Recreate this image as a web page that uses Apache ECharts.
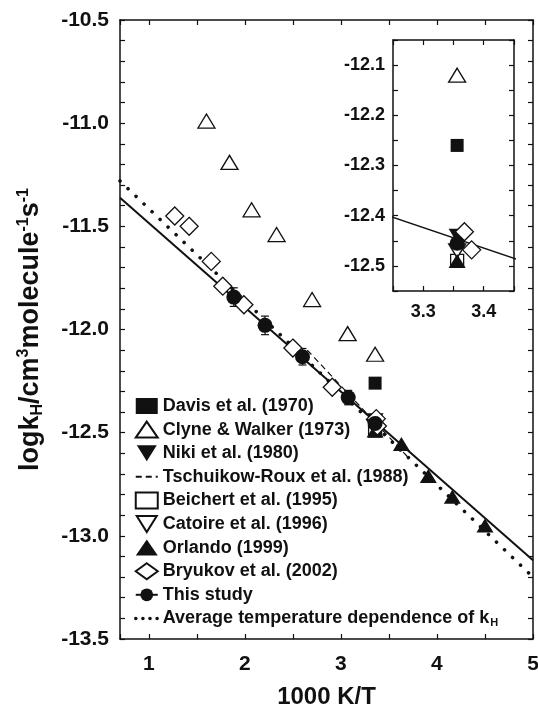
<!DOCTYPE html>
<html>
<head>
<meta charset="utf-8">
<script src="https://cdn.jsdelivr.net/npm/echarts@6/dist/echarts.min.js"></script>
<style>
  html, body { margin: 0; padding: 0; background: #fff; }
  #chart { width: 538px; height: 706px; }
</style>
</head>
<body>
<div id="chart"></div>
<script>
// values (x = 1000 K/T, y = log kH)
const davisX = [3.356]
const davisY = [-12.26]
const clyneX = [1.60, 1.84, 2.07, 2.33, 2.70, 3.07, 3.356]
const clyneY = [-10.99, -11.19, -11.42, -11.54, -11.855, -12.02, -12.12]
const nikiX = [3.356]
const nikiY = [-12.44]
const tschX = [2.65, 3.70]
const tschY = [-12.10, -12.62]
const beichertX = [3.356]
const beichertY = [-12.49]
const catoireX = [3.356]
const catoireY = [-12.47]
const orlandoX = [3.356, 3.63, 3.91, 4.16, 4.50]
const orlandoY = [-12.49, -12.555, -12.71, -12.81, -12.95]
const bryukovX = [1.27, 1.42, 1.65, 1.77, 1.99, 2.50, 2.91, 3.368, 3.38]
const bryukovY = [-11.45, -11.50, -11.67, -11.79, -11.88, -12.09, -12.28, -12.432, -12.468]
const studyX = [1.885, 2.21, 2.60, 3.076, 3.356]
const studyY = [-11.843, -11.98, -12.132, -12.33, -12.455]
const studyErr = [0.045, 0.045, 0.04, 0.035, 0.03]
const fitX = [0.7, 5]
const fitY = [-11.362, -13.118]
const avgX = [0.7, 5]
const avgY = [-11.28, -13.20]

const names = {
  davis: 'Davis et al. (1970)',
  clyne: 'Clyne & Walker (1973)',
  niki: 'Niki et al. (1980)',
  tsch: 'Tschuikow-Roux et al. (1988)',
  beichert: 'Beichert et al. (1995)',
  catoire: 'Catoire et al. (1996)',
  orlando: 'Orlando (1999)',
  bryukov: 'Bryukov et al. (2002)',
  study: 'This study',
  avg: 'Average temperature dependence of kH'
}

const F = '"Liberation Sans", Arial, Helvetica, sans-serif'
const INK = '#111'
const downTri = 'path://M0,0L20,0L10,16Z'
const NOFILL = 'rgba(0,0,0,0)'

function pairs (xs, ys) {
  return xs.map((x, i) => [x, ys[i]])
}

function isStep (v, step) {
  let k = v / step
  return Math.abs(k - Math.round(k)) < 1e-6
}

let chart = echarts.init(document.getElementById('chart'))

function axisBase (extra) {
  return Object.assign({
    type: 'value',
    axisLine: { lineStyle: { color: INK, width: 1.5 } },
    axisTick: { inside: true, length: 5, lineStyle: { color: INK, width: 1.2 } },
    splitLine: { show: false },
    axisLabel: { color: INK, fontFamily: F, fontWeight: 'bold', fontSize: 21 }
  }, extra)
}

// scatter series in one grid
function scatterSet (gi) {
  let open = { color: '#fff', borderColor: INK, borderWidth: 1.3, opacity: 1 }
  let full = { color: INK, opacity: 1 }
  let s = (name, xs, ys, symbol, size, style, z) => ({
    name: name, type: 'scatter', xAxisIndex: gi, yAxisIndex: gi,
    data: pairs(xs, ys), symbol: symbol, symbolSize: size,
    itemStyle: style, z: z || 3
  })
  return [
    s(names.davis, davisX, davisY, 'rect', 13, full),
    s(names.clyne, clyneX, clyneY, 'triangle', [17, 14], open),
    s(names.niki, nikiX, nikiY, downTri, [17, 14], full),
    s(names.beichert, beichertX, beichertY, 'rect', 13, open),
    s(names.catoire, catoireX, catoireY, downTri, [17, 14], open),
    s(names.orlando, orlandoX, orlandoY, 'triangle', [17, 14], full),
    s(names.bryukov, bryukovX, bryukovY, 'diamond', 18, open),
    s(names.study, studyX, studyY, 'circle', 15, full, 4)
  ]
}

let errData = studyX.map((x, i) => [x, studyY[i] - studyErr[i], studyY[i] + studyErr[i]])

let option = {
  animation: false,
  backgroundColor: '#fff',
  grid: [
    { left: 120, top: 20, right: 5, bottom: 67, outerBoundsMode: 'none', containLabel: false },
    { left: 393, top: 40, width: 121, height: 251, outerBoundsMode: 'none', containLabel: false }
  ],
  xAxis: [
    axisBase({
      gridIndex: 0, min: 0.7, max: 5, splitNumber: 9,
      name: '1000 K/T', nameLocation: 'middle', nameGap: 46,
      nameTextStyle: { color: INK, fontFamily: F, fontWeight: 'bold', fontSize: 24 },
      axisLabel: { color: INK, fontFamily: F, fontWeight: 'bold', fontSize: 21, margin: 15,
        formatter: v => isStep(v, 1) ? String(Math.round(v)) : '' }
    }),
    axisBase({ gridIndex: 0, position: 'top', min: 0.7, max: 5, splitNumber: 9, axisLabel: { show: false } }),
    axisBase({
      gridIndex: 1, min: 3.25, max: 3.45, interval: 0.05,
      axisLabel: { color: INK, fontFamily: F, fontWeight: 'bold', fontSize: 18, margin: 12,
        formatter: v => isStep(v, 0.1) ? v.toFixed(1) : '' }
    }),
    axisBase({ gridIndex: 1, position: 'top', min: 3.25, max: 3.45, interval: 0.05, axisLabel: { show: false } })
  ],
  yAxis: [
    axisBase({
      gridIndex: 0, min: -13.5, max: -10.5, interval: 0.1,
      name: 'logk{sub|H}/cm{sup|3}molecule{sup|-1}s{sup|-1}',
      nameLocation: 'middle', nameRotate: 90, nameGap: 74,
      nameTextStyle: {
        color: INK, fontFamily: F, fontWeight: 'bold', fontSize: 27,
        rich: {
          sub: { fontFamily: F, fontWeight: 'bold', fontSize: 16, color: INK, padding: [14, 0, 0, 0] },
          sup: { fontFamily: F, fontWeight: 'bold', fontSize: 16, color: INK, padding: [0, 0, 14, 0] }
        }
      },
      axisLabel: { color: INK, fontFamily: F, fontWeight: 'bold', fontSize: 21, margin: 11,
        formatter: v => isStep(v, 0.5) ? v.toFixed(1) : '' }
    }),
    axisBase({ gridIndex: 0, position: 'right', min: -13.5, max: -10.5, interval: 0.1, axisLabel: { show: false } }),
    axisBase({
      gridIndex: 1, min: -12.55, max: -12.05, interval: 0.05,
      axisLabel: { color: INK, fontFamily: F, fontWeight: 'bold', fontSize: 18, margin: 8,
        formatter: v => isStep(v, 0.1) ? v.toFixed(1) : '' }
    }),
    axisBase({ gridIndex: 1, position: 'right', min: -12.55, max: -12.05, interval: 0.05, axisLabel: { show: false } })
  ],
  legend: {
    orient: 'vertical', left: 129, top: 392,
    itemWidth: 22, itemHeight: 16, itemGap: 5.6,
    textStyle: {
      color: INK, fontFamily: F, fontWeight: 'bold', fontSize: 18,
      rich: { h: { color: INK, fontFamily: F, fontWeight: 'bold', fontSize: 11, padding: [10, 0, 0, 1] } }
    },
    formatter: name => name === names.avg ? 'Average temperature dependence of k{h|H}' : name,
    data: [
      names.davis, names.clyne, names.niki,
      { name: names.tsch, lineStyle: { type: [6, 4] } },
      names.beichert, names.catoire, names.orlando, names.bryukov,
      names.study,
      { name: names.avg, lineStyle: { type: [0.1, 7], width: 3.5 } }
    ]
  },
  series: [
    { name: names.study, type: 'line', data: pairs(fitX, fitY), symbol: 'circle', symbolSize: 15, showSymbol: false,
      lineStyle: { color: INK, width: 2 }, itemStyle: { color: INK }, z: 2 },
    { name: names.avg, type: 'line', data: pairs(avgX, avgY), symbol: 'circle', symbolSize: 0, showSymbol: false,
      lineStyle: { color: INK, width: 3.5, type: [0.1, 11], cap: 'round' },
      itemStyle: { color: NOFILL, borderWidth: 0 }, z: 2 },
    { name: names.tsch, type: 'line', data: pairs(tschX, tschY), symbol: 'circle', symbolSize: 0, showSymbol: false,
      lineStyle: { color: INK, width: 1.2, type: [6, 4] },
      itemStyle: { color: NOFILL, borderWidth: 0 }, z: 2 },
    {
      type: 'custom', name: 'errors', data: errData, z: 3,
      renderItem: (params, api) => {
        let x = api.value(0)
        let lo = api.coord([x, api.value(1)])
        let hi = api.coord([x, api.value(2)])
        let st = { stroke: INK, lineWidth: 1.2 }
        return { type: 'group', children: [
          { type: 'line', shape: { x1: lo[0], y1: lo[1], x2: hi[0], y2: hi[1] }, style: st },
          { type: 'line', shape: { x1: lo[0] - 4, y1: lo[1], x2: lo[0] + 4, y2: lo[1] }, style: st },
          { type: 'line', shape: { x1: hi[0] - 4, y1: hi[1], x2: hi[0] + 4, y2: hi[1] }, style: st }
        ] }
      }
    }
  ].concat(scatterSet(0), [
    { name: names.study, type: 'line', xAxisIndex: 2, yAxisIndex: 2, data: pairs(fitX, fitY), symbol: 'none',
      lineStyle: { color: INK, width: 1.5 }, z: 2 }
  ], scatterSet(2))
}

chart.setOption(option)
</script>
</body>
</html>
